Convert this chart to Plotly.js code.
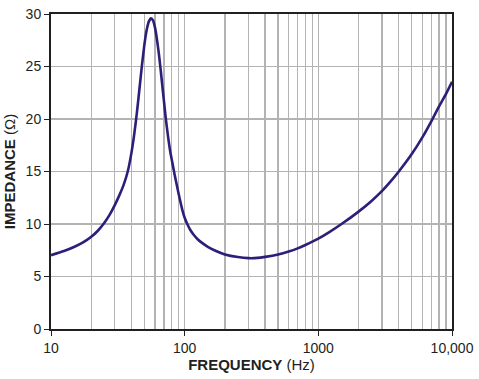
<!DOCTYPE html>
<html>
<head>
<meta charset="utf-8">
<script src="https://cdn.plot.ly/plotly-3.0.1.min.js"></script>
<style>
  html, body { margin: 0; padding: 0; background: #fff; }
  #chart { width: 479px; height: 379px; }
</style>
</head>
<body>
<div id="chart"></div>
<script>
const frequency = [10, 12.5, 15, 17.5, 20, 22.5, 25, 27.5, 30, 32.5, 35, 37.5, 40, 42, 44, 46, 48, 50, 52, 54, 56, 58, 60, 62, 64, 66, 68, 70, 72, 75, 78, 81, 84, 88, 92, 96, 100, 105, 110, 116, 125, 135, 150, 170, 200, 250, 300, 350, 400, 500, 600, 700, 800, 1000, 1200, 1500, 2000, 2500, 3000, 3500, 4000, 5000, 6000, 7000, 8000, 9000, 10000];
const impedance = [7.03, 7.42, 7.83, 8.27, 8.78, 9.38, 10.1, 10.9, 11.8, 12.75, 13.75, 15.0, 16.8, 18.6, 20.7, 23.0, 25.2, 27.1, 28.5, 29.3, 29.6, 29.4, 28.7, 27.6, 26.3, 24.8, 23.2, 21.7, 20.2, 18.4, 16.9, 15.8, 14.75, 13.5, 12.35, 11.35, 10.6, 9.95, 9.45, 9.02, 8.55, 8.2, 7.8, 7.45, 7.1, 6.85, 6.75, 6.77, 6.87, 7.1, 7.38, 7.68, 8.0, 8.6, 9.2, 10.02, 11.18, 12.2, 13.15, 14.1, 15.0, 16.66, 18.25, 19.78, 21.2, 22.37, 23.55];
const xTickVals = [10, 100, 1000, 10000];
const xTickText = ['10', '100', '1000', '10,000'];
const xMinorVals = [20, 30, 40, 50, 60, 70, 80, 90, 200, 300, 400, 500, 600, 700, 800, 900, 2000, 3000, 4000, 5000, 6000, 7000, 8000, 9000];
const yTickVals = [0, 5, 10, 15, 20, 25, 30];

const gridColor = '#b3b3b3';
const inkColor = '#231f20';

const trace = {
  x: frequency,
  y: impedance,
  type: 'scatter',
  mode: 'lines',
  line: { color: '#2b1f78', width: 2.6, shape: 'spline', smoothing: 0.6 },
  hoverinfo: 'skip'
};

const layout = {
  width: 479,
  height: 379,
  margin: { l: 51, r: 27, t: 14, b: 50 },
  paper_bgcolor: '#ffffff',
  plot_bgcolor: '#ffffff',
  showlegend: false,
  font: { family: 'Liberation Sans, Arial, sans-serif', size: 14, color: inkColor },
  xaxis: {
    type: 'log',
    range: [1, 4],
    tickvals: xTickVals,
    ticktext: xTickText,
    ticks: 'outside',
    ticklen: 5,
    tickwidth: 1,
    tickcolor: inkColor,
    showgrid: true,
    gridcolor: gridColor,
    gridwidth: 1.3,
    showline: true,
    linecolor: inkColor,
    linewidth: 2,
    mirror: true,
    zeroline: false,
    tickfont: { size: 14 },
    title: { text: '<b>FREQUENCY</b> (Hz)', font: { size: 15 }, standoff: 4 }
  },
  xaxis2: {
    type: 'log',
    range: [1, 4],
    overlaying: 'x',
    tickvals: xMinorVals,
    showticklabels: false,
    ticks: '',
    showgrid: true,
    gridcolor: gridColor,
    gridwidth: 1.3,
    showline: false,
    zeroline: false
  },
  yaxis: {
    range: [0, 30],
    tickvals: yTickVals,
    ticks: 'outside',
    ticklen: 5,
    tickwidth: 1,
    tickcolor: inkColor,
    showgrid: true,
    gridcolor: gridColor,
    gridwidth: 1.3,
    showline: true,
    linecolor: inkColor,
    linewidth: 2,
    mirror: true,
    zeroline: false,
    tickfont: { size: 14 },
    title: { text: '<b>IMPEDANCE</b> (Ω)', font: { size: 15 }, standoff: 6 }
  }
};

const gridTrace = { x: [10, 10000], y: [null, null], xaxis: 'x2', yaxis: 'y', type: 'scatter', mode: 'lines', hoverinfo: 'skip' };

Plotly.newPlot('chart', [gridTrace, trace], layout, { staticPlot: true, displayModeBar: false });
</script>
</body>
</html>
